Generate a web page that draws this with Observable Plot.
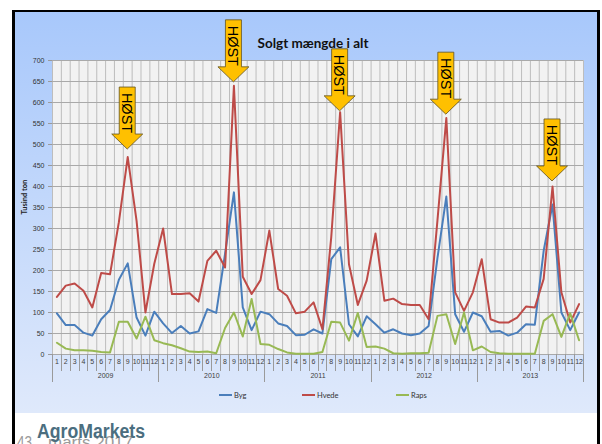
<!DOCTYPE html>
<html><head><meta charset="utf-8">
<script src="https://cdn.jsdelivr.net/npm/d3@7"></script>
<script src="https://cdn.jsdelivr.net/npm/@observablehq/plot@0.6"></script>
<style>
html,body{margin:0;padding:0;background:#fff;}
body{width:602px;height:444px;overflow:hidden;position:relative;font-family:"Liberation Sans",Arial,sans-serif;}
#frame{position:absolute;left:12px;top:10px;width:582px;height:450px;border-top:2px solid #000;border-left:3px solid #000;border-right:3px solid #000;}
#chart{position:absolute;left:0;top:0;width:582px;height:401px;background:linear-gradient(#a8c8fb,#dfe9fb);}
#plot{position:absolute;left:0;top:0;}
#legend{position:absolute;left:0;top:0;width:582px;height:401px;pointer-events:none;}
.li{position:absolute;top:378px;height:10px;display:flex;align-items:center;font:7.5px Lato,"Liberation Sans",sans-serif;color:#333;white-space:nowrap;}
.sw{display:inline-block;width:13px;height:2.5px;margin-right:2px;}
#foot{position:absolute;left:0;top:414px;}
</style>
</head><body>
<div id="frame"><div id="chart"><div id="plot"></div><div id="legend"></div></div></div>
<svg id="foot" width="602" height="30"></svg>
<script>
// ---- data ----
const title = "Solgt mængde i alt";
const yTitle = "Tusind ton";
const years = [2009, 2010, 2011, 2012, 2013];
const monthLabels = ["1","2","3","4","5","6","7","8","9","10","11","12"];
const yTicks = [0,50,100,150,200,250,300,350,400,450,500,550,600,650,700];
const seriesNames = ["Byg", "Hvede", "Raps"];
const seriesColors = ["#4a7ebb", "#be4b48", "#98b954"];
const byg = [
  98, 70, 70, 52, 45, 84, 106, 178, 217, 88, 45, 102,
  74, 51, 68, 50, 55, 108, 99, 240, 386, 112, 58, 102,
  96, 74, 68, 46, 47, 60, 50, 227, 255, 72, 43, 91,
  72, 52, 60, 50, 46, 50, 68, 230, 376, 96, 54, 100,
  91, 54, 56, 45, 52, 72, 71, 247, 357, 100, 58, 100];
const hvede = [
  137, 164, 169, 152, 112, 194, 191, 315, 470, 318, 100, 216,
  300, 144, 144, 146, 126, 223, 247, 207, 640, 185, 144, 177,
  295, 156, 140, 98, 102, 124, 60, 280, 577, 215, 118, 176,
  288, 128, 133, 120, 118, 118, 84, 320, 563, 148, 104, 148,
  227, 84, 76, 76, 88, 114, 112, 180, 400, 148, 76, 120];
const raps = [
  28, 14, 10, 10, 9, 6, 5, 78, 78, 38, 90, 34,
  27, 22, 15, 7, 6, 7, 3, 63, 100, 43, 132, 25,
  23, 13, 5, 2, 2, 2, 6, 78, 76, 33, 99, 18,
  19, 14, 3, 2, 3, 3, 4, 92, 96, 25, 100, 10,
  19, 6, 3, 2, 2, 2, 2, 80, 96, 42, 98, 34];
const hostLabel = "HØST";
const hostYears = [2009, 2010, 2011, 2012, 2013];
const hostMonth = 9;
const hostTip = [488, 648, 579, 571, 412];
const brand = "AgroMarkets";
const footPage = "43";
const footDate = "marts 2017";

// ---- derived ----
const values = [byg, hvede, raps];
const nMonths = years.length * monthLabels.length;
const rows = seriesNames.flatMap((s, j) => values[j].map((v, i) => ({s, t: i + 0.5, v})));
const monthRows = d3.range(nMonths).map(i => ({t: i + 0.5, label: monthLabels[i % 12]}));
const yearRows = years.map((y, i) => ({t: i * 12 + 6, label: String(y)}));
const bounds = d3.range(nMonths + 1);

function axisDeco(index, scales, vals, dims) {
  const g = d3.create("svg:g");
  const y0 = dims.height - dims.marginBottom;
  for (const k of bounds) {
    const x = Math.round(scales.x(k)) + 0.5;
    g.append("line").attr("x1", x).attr("x2", x).attr("y1", y0).attr("y2", y0 + (k % 12 === 0 ? 28 : 17))
      .attr("stroke", "#9a9a9a").attr("stroke-width", 1);
  }
  for (const v of yTicks) {
    const y = Math.round(scales.y(v)) + 0.5;
    g.append("line").attr("x1", dims.marginLeft - 4).attr("x2", dims.marginLeft).attr("y1", y).attr("y2", y)
      .attr("stroke", "#9a9a9a");
  }
  return g.node();
}

function arrows(index, scales) {
  const g = d3.create("svg:g");
  hostYears.forEach((yr, i) => {
    const k = (yr - years[0]) * 12 + hostMonth - 1;
    const px = scales.x(k + 0.5), py = scales.y(hostTip[i]);
    const pts = [[0,0],[-15.5,-15],[-8,-15],[-8,-62],[8,-62],[8,-15],[15.5,-15]]
      .map(([dx, dy]) => [px + dx, py + dy].join(","));
    g.append("polygon").attr("points", pts.join(" ")).attr("fill", "#ffc000")
      .attr("stroke", "#5f5020").attr("stroke-width", 0.8).attr("stroke-linejoin", "miter");
    g.append("text").attr("transform", `translate(${px},${py - 36}) rotate(90)`)
      .attr("text-anchor", "middle").attr("dy", "0.36em")
      .attr("font-size", 14.5).attr("font-family", "'Liberation Sans',Arial,sans-serif")
      .attr("fill", "#000").text(hostLabel);
  });
  return g.node();
}

const chart = Plot.plot({
  width: 582, height: 401,
  marginLeft: 37, marginRight: 14, marginTop: 48, marginBottom: 59,
  style: {background: "transparent", overflow: "visible", fontFamily: "'Liberation Sans',Arial,sans-serif"},
  x: {domain: [0, nMonths], axis: null},
  y: {domain: [0, 700], axis: null},
  color: {domain: seriesNames, range: seriesColors},
  marks: [
    Plot.frame({fill: "#f2f2f2", stroke: "none"}),
    Plot.ruleX(bounds, {x: d => d, stroke: "#bdbdbd", strokeOpacity: 1}),
    Plot.ruleY(yTicks, {y: d => d, stroke: "#a9a9a9", strokeOpacity: 1}),
    axisDeco,
    Plot.text(yTicks, {y: d => d, text: d => String(d), frameAnchor: "left", dx: -8, textAnchor: "end", fontSize: 7, fill: "#333"}),
    Plot.text(monthRows, {x: "t", text: "label", frameAnchor: "bottom", dy: 9, fontSize: 7, fill: "#404040"}),
    Plot.text(yearRows, {x: "t", text: "label", frameAnchor: "bottom", dy: 23, fontSize: 7, fill: "#404040"}),
    Plot.text([yTitle], {text: d => d, frameAnchor: "left", dx: -28, dy: 7, rotate: -90, fontSize: 7.5, fontWeight: "bold", fontFamily: "Lato, sans-serif", fill: "#222"}),
    Plot.text([title], {text: d => d, frameAnchor: "top", dx: -5, dy: -22, fontSize: 13.5, fontWeight: "bold", fontFamily: "Lato, sans-serif", fill: "#111"}),
    Plot.line(rows, {x: "t", y: "v", z: "s", stroke: "s", strokeWidth: 2, curve: "linear"}),
    arrows
  ]
});
document.getElementById("plot").appendChild(chart);

// legend
const legendX = [204, 287, 381];
const leg = document.getElementById("legend");
seriesNames.forEach((s, j) => {
  const d = document.createElement("div");
  d.className = "li";
  d.style.left = legendX[j] + "px";
  const sw = document.createElement("span");
  sw.className = "sw"; sw.style.background = seriesColors[j];
  d.appendChild(sw);
  d.appendChild(document.createTextNode(s));
  leg.appendChild(d);
});

// footer
const foot = d3.select("#foot");
foot.append("text").attr("x", 17).attr("y", 34).attr("font-size", 17).attr("fill", "#9a9a9a")
  .attr("textLength", 15).attr("lengthAdjust", "spacingAndGlyphs").text(footPage);
foot.append("text").attr("x", 48).attr("y", 34).attr("font-size", 17).attr("fill", "#9a9a9a")
  .attr("textLength", 85).attr("lengthAdjust", "spacingAndGlyphs").text(footDate);
foot.append("text").attr("x", 37).attr("y", 24).attr("font-size", 19.5).attr("font-weight", "bold")
  .attr("fill", "#4b6e7f").attr("textLength", 108).attr("lengthAdjust", "spacingAndGlyphs")
  .attr("font-family", "'Liberation Sans',Arial,sans-serif").text(brand);
</script>
</body></html>
